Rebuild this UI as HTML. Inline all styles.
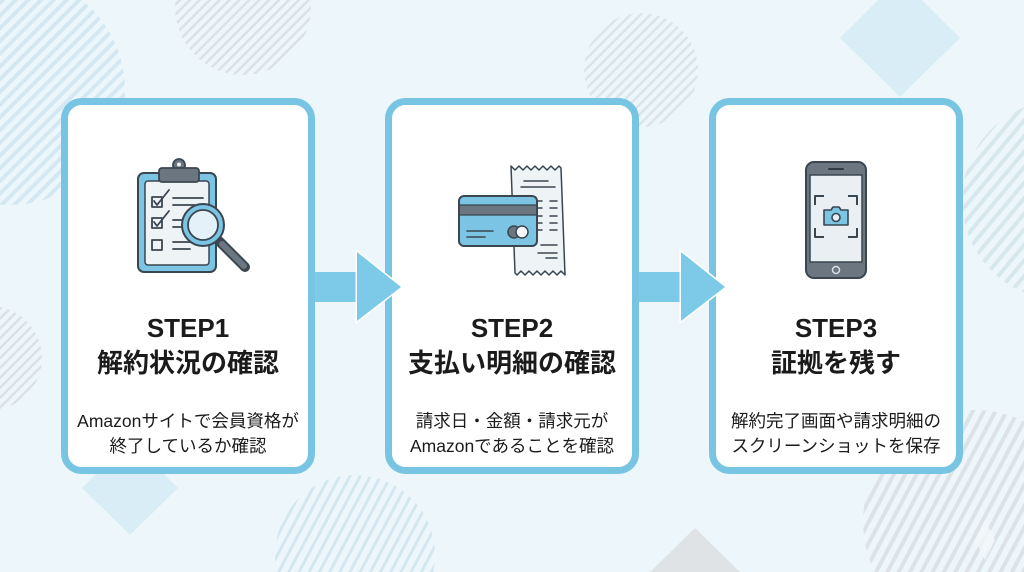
<!DOCTYPE html>
<html lang="ja">
<head>
<meta charset="utf-8">
<style>
  html{width:1024px;height:572px;overflow:hidden;margin:0;padding:0;}
  body{margin:0;padding:0;width:1024px;height:572px;overflow:hidden;background:#edf7fb;position:relative;
       font-family:"Liberation Sans","Noto Sans CJK JP",sans-serif;color:#1b1b1b;}
  svg.bg{position:absolute;left:0;top:0;display:block;}
  .t{position:absolute;width:254px;text-align:center;white-space:nowrap;}
  .step{font-size:26px;font-weight:bold;line-height:30px;top:313px;}
  .title{font-size:26px;font-weight:bold;line-height:30px;top:348px;}
  .desc{font-size:17.5px;line-height:25px;top:409px;}
</style>
</head>
<body>
<svg class="bg" width="1024" height="572" viewBox="0 0 1024 572" xmlns="http://www.w3.org/2000/svg">
  <defs>
    <pattern id="pb" width="9" height="9" patternUnits="userSpaceOnUse" patternTransform="rotate(45)">
      <rect x="0" y="0" width="4" height="9" fill="#d3e8f2"/>
    </pattern>
    <pattern id="pg" width="7" height="7" patternUnits="userSpaceOnUse" patternTransform="rotate(45)">
      <rect x="0" y="0" width="2.5" height="7" fill="#dce1e5"/>
    </pattern>
    <pattern id="pgb" width="7" height="7" patternUnits="userSpaceOnUse" patternTransform="rotate(45)">
      <rect x="0" y="0" width="2.5" height="7" fill="#dae5ea"/>
    </pattern>
    <pattern id="pbs" width="9" height="9" patternUnits="userSpaceOnUse" patternTransform="rotate(28)">
      <rect x="0" y="0" width="3" height="9" fill="#d4e7f0"/>
    </pattern>
    <pattern id="pgs" width="10" height="10" patternUnits="userSpaceOnUse" patternTransform="rotate(28)">
      <rect x="0" y="0" width="4" height="10" fill="#dde2e6"/>
    </pattern>
    <pattern id="pbr" width="10" height="10" patternUnits="userSpaceOnUse" patternTransform="rotate(40)">
      <rect x="0" y="0" width="4" height="10" fill="#d7e7ee"/>
    </pattern>
  </defs>

  <!-- background decorations -->
  <circle cx="10" cy="90" r="115" fill="url(#pb)"/>
  <circle cx="243" cy="7" r="68" fill="url(#pg)"/>
  <circle cx="641" cy="70" r="57" fill="url(#pgb)"/>
  <polygon points="900,-22 960,38 900,97 840,38" fill="#d8edf5"/>
  <path d="M1024,107.5 A100,100 0 0 0 1024,292.5 Z" fill="url(#pbr)"/>
  <circle cx="-10" cy="358" r="52" fill="url(#pg)"/>
  <polygon points="130,441 178,488 130,535 82,488" fill="#d8edf5"/>
  <path d="M276.8,572 A80,80 0 1 1 433.2,572 Z" fill="url(#pbs)"/>
  <polygon points="695,528 740,572 650,572" fill="#dfe3e6"/>
  <path d="M874.8,572 A112,112 0 0 1 1024,421.3 L1024,572 Z" fill="url(#pgs)"/>
  <polygon points="985,520 995,540 985,560 975,540" fill="#f3f8fa" opacity="0.8"/>

  <!-- cards -->
  <rect x="64.5" y="101.5" width="247" height="369" rx="17" fill="#ffffff" stroke="#78c5e3" stroke-width="7"/>
  <rect x="388.5" y="101.5" width="247" height="369" rx="17" fill="#ffffff" stroke="#78c5e3" stroke-width="7"/>
  <rect x="712.5" y="101.5" width="247" height="369" rx="17" fill="#ffffff" stroke="#78c5e3" stroke-width="7"/>

  <!-- arrows -->
  <rect x="315" y="272" width="44" height="30" fill="#7ccae8"/>
  <polygon points="357,252 401,287 357,321" fill="#7ccae8" stroke="#ffffff" stroke-width="3" stroke-linejoin="miter" paint-order="stroke"/>
  <rect x="357" y="273" width="4" height="28" fill="#7ccae8"/>
  <rect x="639" y="272" width="44" height="30" fill="#7ccae8"/>
  <polygon points="681,252 725,287 681,321" fill="#7ccae8" stroke="#ffffff" stroke-width="3" stroke-linejoin="miter" paint-order="stroke"/>
  <rect x="681" y="273" width="4" height="28" fill="#7ccae8"/>

  <!-- icon 1: clipboard + magnifier -->
  <g stroke="#3a4650" stroke-linejoin="round" stroke-linecap="round">
    <rect x="138" y="173" width="78" height="99" rx="6" fill="#7cc4e4" stroke-width="2"/>
    <rect x="145" y="181" width="64" height="84" rx="3" fill="#eef3f6" stroke-width="1.5"/>
    <circle cx="179" cy="165" r="6" fill="#6b7680" stroke-width="1.8"/>
    <circle cx="179" cy="164.5" r="2" fill="#eef3f6" stroke="none"/>
    <rect x="159" y="168" width="40" height="14" rx="3" fill="#6b7680" stroke-width="1.8"/>
    <rect x="152" y="197" width="10" height="10" fill="none" stroke-width="1.8"/>
    <polyline points="154,201 157,205 169,190" fill="none" stroke-width="1.8"/>
    <rect x="152" y="218" width="10" height="10" fill="none" stroke-width="1.8"/>
    <polyline points="154,222 157,226 169,211" fill="none" stroke-width="1.8"/>
    <rect x="152" y="240" width="10" height="10" fill="none" stroke-width="1.8"/>
    <line x1="173" y1="198" x2="203" y2="198" stroke-width="1.8"/>
    <line x1="173" y1="205" x2="195" y2="205" stroke-width="1.8"/>
    <line x1="173" y1="220" x2="190" y2="220" stroke-width="1.8"/>
    <line x1="173" y1="227" x2="186" y2="227" stroke-width="1.8"/>
    <line x1="173" y1="242" x2="195" y2="242" stroke-width="1.8"/>
    <line x1="173" y1="249" x2="190" y2="249" stroke-width="1.8"/>
    <line x1="219" y1="241" x2="245" y2="267" stroke="#3a4650" stroke-width="10"/>
    <line x1="222" y1="244" x2="244" y2="266" stroke="#6b7680" stroke-width="6"/>
    <circle cx="203" cy="225" r="21" fill="#7cc4e4" stroke-width="2"/>
    <circle cx="203" cy="225" r="15" fill="#e4f1f8" stroke-width="1.8"/>
  </g>

  <!-- icon 2: card + receipt -->
  <g stroke="#3a4650" stroke-linejoin="round" stroke-linecap="round">
    <path d="M511,166 l4,4 l4,-4 l4,4 l4,-4 l4,4 l4,-4 l4,4 l4,-4 l4,4 l4,-4 l4,4 l4,-4 l2,2 L565,275 l-4,-4 l-4,4 l-4,-4 l-4,4 l-4,-4 l-4,4 l-4,-4 l-4,4 l-4,-4 l-4,4 l-4,-4 l-4,4 l-2,-2 Z" fill="#eef3f6" stroke-width="1.5"/>
    <line x1="524" y1="181" x2="548" y2="181" stroke-width="1.5"/>
    <line x1="521" y1="187" x2="555" y2="187" stroke-width="1.5"/>
    <g stroke-width="1.5">
      <line x1="538" y1="201" x2="542" y2="201"/><line x1="550" y1="201" x2="557" y2="201"/>
      <line x1="538" y1="208" x2="542" y2="208"/><line x1="550" y1="208" x2="557" y2="208"/>
      <line x1="538" y1="216" x2="542" y2="216"/><line x1="550" y1="216" x2="557" y2="216"/>
      <line x1="538" y1="223" x2="542" y2="223"/><line x1="550" y1="223" x2="557" y2="223"/>
      <line x1="538" y1="230" x2="542" y2="230"/><line x1="550" y1="230" x2="557" y2="230"/>
      <line x1="541" y1="245" x2="557" y2="245"/>
      <line x1="538" y1="253" x2="557" y2="253"/>
      <line x1="546" y1="258" x2="557" y2="258"/>
    </g>
    <rect x="459" y="196" width="78" height="50" rx="5" fill="#7cc4e4" stroke-width="2"/>
    <rect x="460" y="205" width="76" height="10" fill="#6b7680" stroke="none"/>
    <line x1="460" y1="205" x2="536" y2="205" stroke-width="1.2"/>
    <line x1="460" y1="215" x2="536" y2="215" stroke-width="1.2"/>
    <line x1="467" y1="231" x2="493" y2="231" stroke-width="1.6"/>
    <line x1="467" y1="237" x2="485" y2="237" stroke-width="1.6"/>
    <circle cx="514" cy="232" r="6" fill="#6b7680" stroke-width="1.5"/>
    <circle cx="522" cy="232" r="6" fill="#f4f7f9" stroke-width="1.5"/>
  </g>

  <!-- icon 3: phone -->
  <g stroke="#3a4650" stroke-linejoin="round" stroke-linecap="round">
    <rect x="806" y="162" width="60" height="116" rx="8" fill="#6b7680" stroke-width="2"/>
    <rect x="810" y="175" width="52" height="87" fill="#e9eff3" stroke-width="1.5"/>
    <line x1="829" y1="169" x2="843" y2="169" stroke="#2f3a43" stroke-width="2"/>
    <circle cx="836" cy="270" r="3.5" fill="#6b7680" stroke="#d9e0e5" stroke-width="1.5"/>
    <g fill="none" stroke-width="2" stroke-linecap="square">
      <polyline points="815,204 815,196 823,196"/>
      <polyline points="849,196 857,196 857,204"/>
      <polyline points="815,229 815,237 823,237"/>
      <polyline points="849,237 857,237 857,229"/>
    </g>
    <path d="M824,210 h7 l2,-3 h6 l2,3 h7 v15 h-24 Z" fill="#7cc4e4" stroke-width="1.6"/>
    <circle cx="836" cy="217.5" r="4" fill="#e9eff3" stroke-width="1.6"/>
  </g>
</svg>

<div class="t step" style="left:61px;">STEP1</div>
<div class="t title" style="left:61px;">解約状況の確認</div>
<div class="t desc" style="left:61px;">Amazonサイトで会員資格が<br>終了しているか確認</div>

<div class="t step" style="left:385px;">STEP2</div>
<div class="t title" style="left:385px;">支払い明細の確認</div>
<div class="t desc" style="left:385px;">請求日・金額・請求元が<br>Amazonであることを確認</div>

<div class="t step" style="left:709px;">STEP3</div>
<div class="t title" style="left:709px;">証拠を残す</div>
<div class="t desc" style="left:709px;">解約完了画面や請求明細の<br>スクリーンショットを保存</div>
</body>
</html>
